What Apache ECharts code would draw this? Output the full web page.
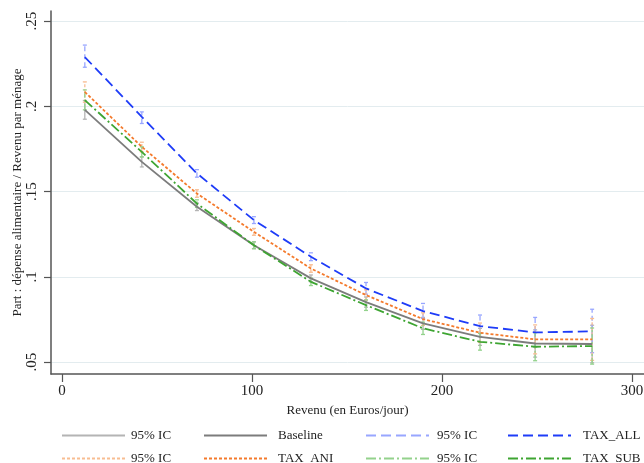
<!DOCTYPE html>
<html>
<head>
<meta charset="utf-8">
<script src="https://cdn.jsdelivr.net/npm/echarts@6/dist/echarts.min.js"></script>
<style>
  html, body { margin: 0; padding: 0; background: #fff; }
  #chart { width: 644px; height: 463px; }
</style>
</head>
<body>
<div id="chart"></div>
<script>
// revenu (euros/jour), centre des classes
var revenu = [12, 42, 71, 101, 131, 160, 190, 220, 249, 279];

var xTicks = [0, 100, 200, 300];
var yTicks = [0.05, 0.1, 0.15, 0.2, 0.25];

var baseline = [0.198, 0.1675, 0.1411, 0.1186, 0.0991, 0.0852, 0.0727, 0.0648, 0.0609, 0.0606];
var baselineLow = [0.1925, 0.1645, 0.1389, 0.1166, 0.0971, 0.0822, 0.0692, 0.0598, 0.0529, 0.0496];
var baselineHigh = [0.2035, 0.1705, 0.1433, 0.1206, 0.1011, 0.0882, 0.0762, 0.0698, 0.0689, 0.0716];

var taxAll = [0.229, 0.1939, 0.1607, 0.1333, 0.1118, 0.0932, 0.0799, 0.0711, 0.0674, 0.068];
var taxAllLow = [0.223, 0.19, 0.1585, 0.1313, 0.1095, 0.0898, 0.0756, 0.065, 0.0588, 0.0555];
var taxAllHigh = [0.236, 0.1968, 0.1629, 0.1353, 0.1141, 0.0967, 0.0844, 0.0776, 0.0762, 0.081];

var taxAni = [0.2085, 0.1763, 0.1489, 0.1264, 0.1049, 0.0893, 0.0752, 0.0672, 0.0633, 0.0633];
var taxAniLow = [0.2025, 0.1733, 0.1467, 0.1244, 0.1027, 0.0862, 0.0715, 0.0615, 0.0548, 0.051];
var taxAniHigh = [0.2144, 0.179, 0.1511, 0.1284, 0.1071, 0.0924, 0.0789, 0.0729, 0.0718, 0.0756];

var taxSub = [0.2037, 0.1733, 0.143, 0.1185, 0.0971, 0.0834, 0.0698, 0.0619, 0.059, 0.0594];
var taxSubLow = [0.198, 0.1703, 0.1408, 0.1165, 0.0949, 0.0803, 0.0662, 0.057, 0.0508, 0.0488];
var taxSubHigh = [0.2097, 0.1763, 0.1452, 0.1205, 0.0993, 0.0865, 0.0734, 0.0668, 0.0672, 0.07];

var FONT = '"Liberation Serif", "DejaVu Serif", serif';

function pairs(ys) {
    return revenu.map(function (x, i) { return [x, ys[i]]; });
}

function ciData(lo, hi) {
    return revenu.map(function (x, i) { return [x, lo[i], hi[i]]; });
}

// barre d'erreur verticale avec petits chapeaux
function ciRender(dash) {
    return function (params, api) {
        var x = api.value(0);
        var lo = api.coord([x, api.value(1)]);
        var hi = api.coord([x, api.value(2)]);
        var c = api.visual('color');
        return {
            type: 'group',
            children: [
                { type: 'line', shape: { x1: lo[0], y1: lo[1], x2: hi[0], y2: hi[1] }, style: { stroke: c, lineWidth: 1.3, lineDash: dash } },
                { type: 'line', shape: { x1: hi[0] - 2, y1: hi[1], x2: hi[0] + 2, y2: hi[1] }, style: { stroke: c, lineWidth: 1.3 } },
                { type: 'line', shape: { x1: lo[0] - 2, y1: lo[1], x2: lo[0] + 2, y2: lo[1] }, style: { stroke: c, lineWidth: 1.3 } }
            ]
        };
    };
}

var styles = {
    base: { color: '#7c7c7c', light: '#b4b4b4', type: 'solid', dash: null },
    all: { color: '#1e3cf8', light: '#98a6ff', type: [10, 5], dash: [5, 3] },
    ani: { color: '#f47a2c', light: '#f8bd92', type: [3, 2], dash: [3, 2] },
    sub: { color: '#3ea532', light: '#93d28c', type: [10, 3, 2, 3], dash: [6, 2, 2, 2] }
};

function lineSeries(name, st, data) {
    return {
        name: name,
        type: 'line',
        data: data,
        symbol: 'none',
        z: 3,
        itemStyle: { color: st.color },
        lineStyle: { color: st.color, width: 1.8, type: st.type }
    };
}

function ciSeries(id, st, data) {
    return {
        type: 'custom',
        id: id,
        renderItem: ciRender(st.dash),
        data: data,
        z: 2,
        itemStyle: { color: st.light }
    };
}

// series vides pour les entrees "95% IC" de la legende
function ciKey(name, st) {
    return {
        name: name,
        type: 'line',
        data: [],
        symbol: 'none',
        itemStyle: { color: st.light },
        lineStyle: { color: st.light, width: 1.8, type: st.type }
    };
}

// une legende par case (2 lignes x 4 colonnes)
function legendItem(left, top, name, gap) {
    return {
        left: left,
        top: top,
        itemWidth: 63,
        itemHeight: 12,
        itemStyle: { opacity: 0 },
        data: [name],
        formatter: function (n) { return n.indexOf('ci_') === 0 ? '95% IC' : n; },
        textStyle: { fontFamily: FONT, fontSize: 13, color: '#222', padding: [0, 0, 0, gap] }
    };
}

var chart = echarts.init(document.getElementById('chart'));
chart.setOption({
    animation: false,
    backgroundColor: '#fff',
    grid: { left: 51, right: 0, top: 11, bottom: 89, outerBoundsMode: 'none' },
    legend: [
        legendItem(56, 424, 'ci_base', 1),
        legendItem(198, 424, 'Baseline', 6),
        legendItem(360, 424, 'ci_all', 3),
        legendItem(502, 424, 'TAX_ALL', 7),
        legendItem(56, 447, 'ci_ani', 1),
        legendItem(198, 447, 'TAX_ANI', 6),
        legendItem(360, 447, 'ci_sub', 3),
        legendItem(502, 447, 'TAX_SUB', 7)
    ],
    xAxis: {
        type: 'value',
        min: -5.8,
        max: 306.3,
        name: 'Revenu (en Euros/jour)',
        nameLocation: 'middle',
        nameGap: 28,
        nameTextStyle: { fontFamily: FONT, fontSize: 13, color: '#222' },
        axisLine: { onZero: false, lineStyle: { color: '#555', width: 1.5 } },
        axisTick: { length: 8, customValues: xTicks, lineStyle: { color: '#555', width: 1.2 } },
        axisLabel: { customValues: xTicks, margin: 10, fontFamily: FONT, fontSize: 15, color: '#222' },
        splitLine: { show: false }
    },
    yAxis: {
        type: 'value',
        min: 0.043,
        max: 0.256,
        name: 'Part : dépense alimentaire / Revenu par ménage',
        nameLocation: 'middle',
        nameGap: 27,
        nameMoveOverlap: false,
        nameTextStyle: { fontFamily: FONT, fontSize: 13, color: '#222' },
        axisLine: { show: true, onZero: false, lineStyle: { color: '#555', width: 1.5 } },
        axisTick: { show: true, length: 7, customValues: yTicks, lineStyle: { color: '#555', width: 1.2 } },
        axisLabel: {
            customValues: yTicks,
            rotate: 90,
            margin: 11,
            fontFamily: FONT,
            fontSize: 15,
            color: '#222',
            formatter: function (v) { return String(v).replace(/^0/, ''); }
        },
        splitLine: { show: true, lineStyle: { color: '#e3ecef', width: 1 } }
    },
    series: [
        ciSeries('ciBase', styles.base, ciData(baselineLow, baselineHigh)),
        ciSeries('ciAll', styles.all, ciData(taxAllLow, taxAllHigh)),
        ciSeries('ciAni', styles.ani, ciData(taxAniLow, taxAniHigh)),
        ciSeries('ciSub', styles.sub, ciData(taxSubLow, taxSubHigh)),
        ciKey('ci_base', styles.base),
        ciKey('ci_all', styles.all),
        ciKey('ci_ani', styles.ani),
        ciKey('ci_sub', styles.sub),
        lineSeries('Baseline', styles.base, pairs(baseline)),
        lineSeries('TAX_ALL', styles.all, pairs(taxAll)),
        lineSeries('TAX_ANI', styles.ani, pairs(taxAni)),
        lineSeries('TAX_SUB', styles.sub, pairs(taxSub))
    ]
});
</script>
</body>
</html>
